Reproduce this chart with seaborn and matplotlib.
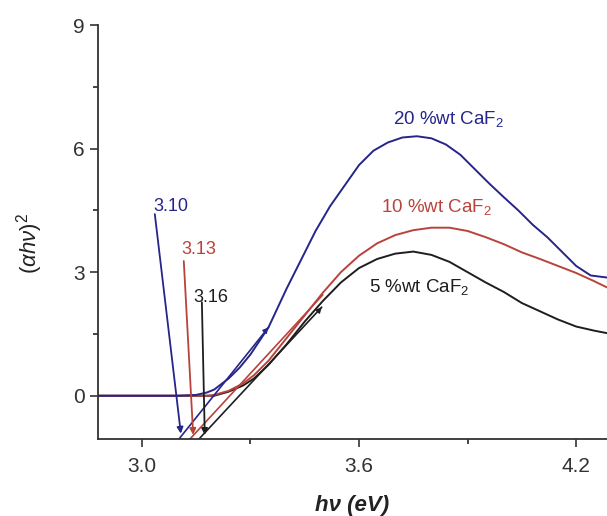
import numpy as np
import pandas as pd
import seaborn as sns
import matplotlib.pyplot as plt

# photon energy (eV) and (alpha h nu)^2
x_20 = [2.88, 3.00, 3.10, 3.15, 3.18, 3.20, 3.24, 3.27, 3.30, 3.35, 3.40, 3.44, 3.48,
        3.52, 3.56, 3.60, 3.64, 3.68, 3.72, 3.76, 3.80, 3.84, 3.88, 3.92, 3.96, 4.00,
        4.04, 4.08, 4.12, 4.16, 4.20, 4.24, 4.285]
y_20 = [0.0, 0.0, 0.0, 0.02, 0.08, 0.15, 0.42, 0.68, 1.0, 1.66, 2.6, 3.3, 4.0,
        4.6, 5.1, 5.6, 5.95, 6.15, 6.27, 6.3, 6.25, 6.1, 5.85, 5.5, 5.15, 4.82,
        4.5, 4.15, 3.85, 3.5, 3.15, 2.92, 2.87]

x_10 = [2.88, 3.00, 3.10, 3.18, 3.20, 3.24, 3.28, 3.31, 3.35, 3.40, 3.45, 3.50, 3.55,
        3.60, 3.65, 3.70, 3.75, 3.80, 3.85, 3.90, 3.95, 4.00, 4.05, 4.10, 4.15, 4.20,
        4.25, 4.285]
y_10 = [0.0, 0.0, 0.0, 0.0, 0.02, 0.12, 0.3, 0.5, 0.85, 1.4, 1.95, 2.5, 3.0,
        3.4, 3.7, 3.9, 4.02, 4.08, 4.08, 4.0, 3.85, 3.68, 3.48, 3.32, 3.15, 2.98,
        2.78, 2.63]

x_5 = [2.88, 3.00, 3.10, 3.18, 3.20, 3.24, 3.28, 3.31, 3.35, 3.40, 3.45, 3.50, 3.55,
       3.60, 3.65, 3.70, 3.75, 3.80, 3.85, 3.90, 3.95, 4.00, 4.05, 4.10, 4.15, 4.20,
       4.25, 4.285]
y_5 = [0.0, 0.0, 0.0, 0.0, 0.0, 0.1, 0.25, 0.42, 0.75, 1.25, 1.8, 2.3, 2.75,
       3.1, 3.32, 3.45, 3.5, 3.42, 3.25, 3.0, 2.75, 2.52, 2.25, 2.05, 1.85, 1.68,
       1.58, 1.52]

series = ["5 %wt", "10 %wt", "20 %wt"]
colors = {"5 %wt": "#1e1e1e", "10 %wt": "#b8433c", "20 %wt": "#25258a"}

# linear fits (start, end) and the band gap values
fit_x = {"20 %wt": [3.100, 3.350], "10 %wt": [3.130, 3.500], "5 %wt": [3.158, 3.497]}
fit_y = {"20 %wt": [-1.08, 1.66], "10 %wt": [-1.08, 2.45], "5 %wt": [-1.05, 2.15]}
gap_labels = {"20 %wt": "3.10", "10 %wt": "3.13", "5 %wt": "3.16"}
gap_text_xy = {"20 %wt": (3.031, 4.6), "10 %wt": (3.110, 3.56), "5 %wt": (3.143, 2.39)}
gap_arrow_from = {"20 %wt": (3.036, 4.41), "10 %wt": (3.116, 3.27), "5 %wt": (3.166, 2.27)}
gap_arrow_to = {"20 %wt": (3.108, -0.92), "10 %wt": (3.142, -0.95), "5 %wt": (3.174, -0.95)}
curve_label_xy = {"20 %wt": (3.847, 6.72), "10 %wt": (3.813, 4.58), "5 %wt": (3.766, 2.64)}

df = pd.concat([
    pd.DataFrame({"x": x_5, "y": y_5, "s": "5 %wt"}),
    pd.DataFrame({"x": x_10, "y": y_10, "s": "10 %wt"}),
    pd.DataFrame({"x": x_20, "y": y_20, "s": "20 %wt"}),
])

sns.set_style("ticks")
plt.rcParams["font.family"] = ["Liberation Sans", "DejaVu Sans"]
plt.rcParams["mathtext.fontset"] = "custom"
plt.rcParams["mathtext.rm"] = "Liberation Sans"
plt.rcParams["mathtext.it"] = "Liberation Sans:italic"

fig = plt.figure(figsize=(6.07, 5.16), dpi=100)
ax = fig.add_axes([0.1614, 0.1492, 0.8386, 0.8023])

sns.lineplot(data=df, x="x", y="y", hue="s", palette=colors, hue_order=series,
             sort=False, estimator=None, linewidth=1.4, legend=False, ax=ax)

for s in series:
    c = colors[s]
    fd = pd.DataFrame({"x": fit_x[s], "y": fit_y[s]})
    sns.lineplot(data=fd, x="x", y="y", color=c, linewidth=1.2, sort=False,
                 estimator=None, ax=ax)
    ax.annotate("", xy=gap_arrow_to[s], xytext=gap_arrow_from[s],
                arrowprops=dict(arrowstyle="-|>", color=c, lw=1.3,
                                mutation_scale=9, shrinkA=0, shrinkB=0))
    tx, ty = gap_text_xy[s]
    ax.text(tx, ty, gap_labels[s], color=c, fontsize=13, ha="left", va="center")
    lx, ly = curve_label_xy[s]
    ax.text(lx, ly, s + " CaF$_2$", color=c, fontsize=13.5, ha="center", va="center")

# small arrow heads at the upper end of the blue and black fits
for s in ["20 %wt", "5 %wt"]:
    ax.annotate("", xy=(fit_x[s][1], fit_y[s][1]),
                xytext=(fit_x[s][1] - 0.01, fit_y[s][1] - 0.1),
                arrowprops=dict(arrowstyle="-|>", color=colors[s], lw=1,
                                mutation_scale=8, shrinkA=0, shrinkB=0))

ax.set_xlim(2.879, 4.285)
ax.set_ylim(-1.05, 9)
ax.set_xticks([3.0, 3.6, 4.2])
ax.set_xticklabels(["3.0", "3.6", "4.2"])
ax.set_xticks([3.3, 3.9], minor=True)
ax.set_yticks([0, 3, 6, 9])
ax.set_yticks([1.5, 4.5, 7.5], minor=True)
ax.tick_params(which="major", length=6, width=1.2, labelsize=15, colors="#333333")
ax.tick_params(axis="x", which="major", pad=7)
ax.tick_params(which="minor", length=3.5, width=1.2)
sns.despine(ax=ax)
for sp in ["left", "bottom"]:
    ax.spines[sp].set_linewidth(1.3)
    ax.spines[sp].set_color("#333333")

ax.set_xlabel("hν (eV)", fontsize=16, fontweight="bold", fontstyle="italic", color="#222222")
ax.xaxis.set_label_coords(0.5, -0.135)
ax.set_ylabel(r"$(\alpha h\nu)^2$", fontsize=16, color="#222222")
ax.yaxis.set_label_coords(-0.105, 0.473)

fig.savefig("out.png", dpi=100)
